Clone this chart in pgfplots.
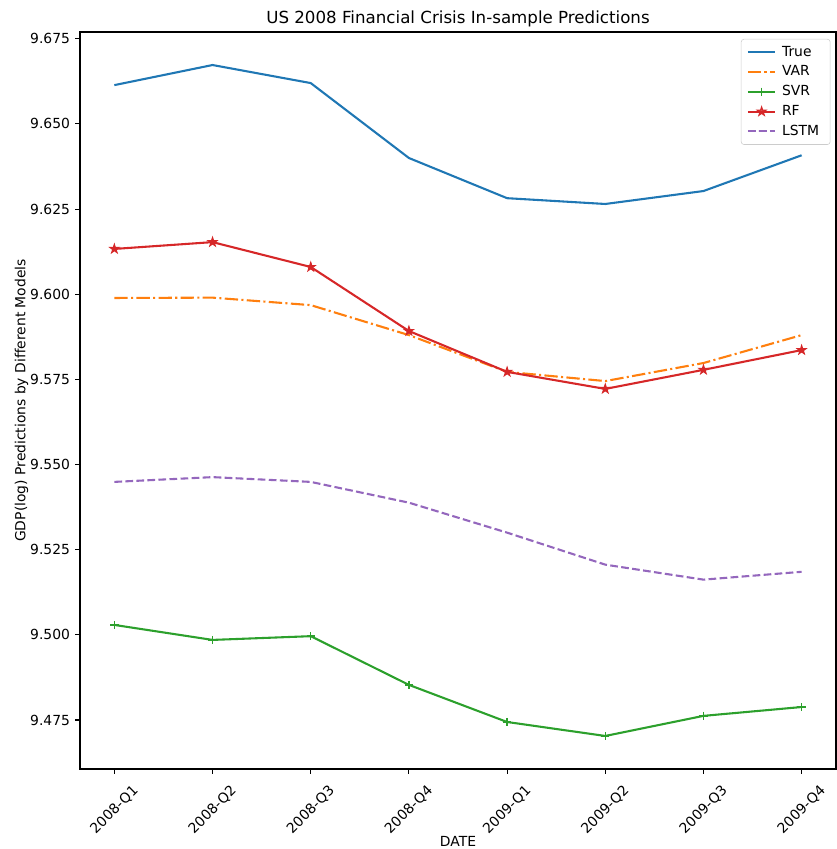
\documentclass[border=0pt]{standalone}
\usepackage{fontspec}
\setmainfont{DejaVu Sans}
\usepackage{pgfplots}
\pgfplotsset{compat=1.18}
\usetikzlibrary{calc}
\definecolor{c0}{HTML}{1F77B4}
\definecolor{c1}{HTML}{FF7F0E}
\definecolor{c2}{HTML}{2CA02C}
\definecolor{c3}{HTML}{D62728}
\definecolor{c4}{HTML}{9467BD}
\pgfdeclareplotmark{fstar}{%
  \pgfpathmoveto{\pgfpointpolar{90}{\pgfplotmarksize}}%
  \pgfpathlineto{\pgfpointpolar{126}{0.382\pgfplotmarksize}}%
  \pgfpathlineto{\pgfpointpolar{162}{\pgfplotmarksize}}%
  \pgfpathlineto{\pgfpointpolar{198}{0.382\pgfplotmarksize}}%
  \pgfpathlineto{\pgfpointpolar{234}{\pgfplotmarksize}}%
  \pgfpathlineto{\pgfpointpolar{270}{0.382\pgfplotmarksize}}%
  \pgfpathlineto{\pgfpointpolar{306}{\pgfplotmarksize}}%
  \pgfpathlineto{\pgfpointpolar{342}{0.382\pgfplotmarksize}}%
  \pgfpathlineto{\pgfpointpolar{18}{\pgfplotmarksize}}%
  \pgfpathlineto{\pgfpointpolar{54}{0.382\pgfplotmarksize}}%
  \pgfpathclose
  \pgfusepathqfillstroke}
\begin{document}
\begin{tikzpicture}
\begin{axis}[
  scale only axis,
  width=544.32pt, height=530.64pt,
  xmin=-0.35, xmax=7.35,
  ymin=9.4606, ymax=9.6770,
  axis line style={line width=0.8pt},
  tick align=outside,
  major tick length=3.5pt,
  every tick/.style={black, line width=0.8pt},
  xtick={0,...,7},
  xticklabels={2008-Q1,2008-Q2,2008-Q3,2008-Q4,2009-Q1,2009-Q2,2009-Q3,2009-Q4},
  ytick={9.475,9.500,9.525,9.550,9.575,9.600,9.625,9.650,9.675},
  xtick pos=bottom, ytick pos=left,
  /pgf/number format/.cd, fixed, fixed zerofill, precision=3, assume math mode=true,
  /pgfplots/.cd,
  tick label style={font=\fontsize{10}{12}\selectfont},
  yticklabel style={anchor=east, inner sep=0pt, xshift=-3.5pt},
  xticklabel style={yshift=-26pt, rotate=45, anchor=center, inner sep=0pt},
  title={US 2008 Financial Crisis In-sample Predictions},
  title style={font=\fontsize{12}{14}\selectfont, at={(0.5,1)}, anchor=base, yshift=0pt, inner sep=0pt},
  xlabel={DATE},
  xlabel style={font=\fontsize{10}{12}\selectfont, at={([yshift=-52pt]axis description cs:0.5,0)}, anchor=center, inner sep=0pt},
  ylabel={GDP(log) Predictions by Different Models},
  ylabel style={font=\fontsize{10}{12}\selectfont, at={([xshift=-42pt]axis description cs:0,0.5)}, anchor=center, rotate=0, inner sep=0pt},
  legend style={at={(1,1)}, anchor=north east, xshift=-4pt, yshift=-5pt, draw=black!20, rounded corners=2pt, fill=white, fill opacity=0.8, text opacity=1, font=\fontsize{10}{12}\selectfont, inner xsep=4pt, inner ysep=3.5pt, row sep=2.4pt, nodes={inner xsep=4pt, inner ysep=1.5pt}},
  legend cell align=left,
  legend image code/.code={\draw[mark repeat=2, mark phase=2, #1] plot coordinates {(0cm,0cm) (0.35cm,0cm) (0.7cm,0cm)};},
]
\addplot[c0, line width=1.5pt] coordinates {(0,9.6614) (1,9.6673) (2,9.6620) (3,9.6400) (4,9.6282) (5,9.6265) (6,9.6303) (7,9.6408)};
\addlegendentry{True}
\addplot[c1, line width=1.5pt, dash pattern=on 9.6pt off 2.4pt on 1.5pt off 2.4pt] coordinates {(0,9.5989) (1,9.5990) (2,9.5968) (3,9.5880) (4,9.5772) (5,9.5745) (6,9.5798) (7,9.5880)};
\addlegendentry{VAR}
\addplot[c2, line width=1.5pt, mark=+, mark size=3pt, mark options={solid, line width=1pt}] coordinates {(0,9.5029) (1,9.4985) (2,9.4996) (3,9.4853) (4,9.4744) (5,9.4703) (6,9.4762) (7,9.4788)};
\addlegendentry{SVR}
\addplot[c3, line width=1.5pt, mark=fstar, mark size=3.3pt, mark options={solid, fill=c3, line width=0.8pt}] coordinates {(0,9.6133) (1,9.6153) (2,9.6080) (3,9.5892) (4,9.5772) (5,9.5722) (6,9.5778) (7,9.5836)};
\addlegendentry{RF}
\addplot[c4, line width=1.5pt, dash pattern=on 5.55pt off 2.4pt] coordinates {(0,9.5449) (1,9.5463) (2,9.5449) (3,9.5388) (4,9.5300) (5,9.5206) (6,9.5162) (7,9.5185)};
\addlegendentry{LSTM}
\end{axis}
\pgfresetboundingbox
\path ($(current axis.south west)+(-57.6pt,-57.6pt)$) rectangle ($(current axis.north east)+(0pt,23.04pt)$);
\end{tikzpicture}
\end{document}
